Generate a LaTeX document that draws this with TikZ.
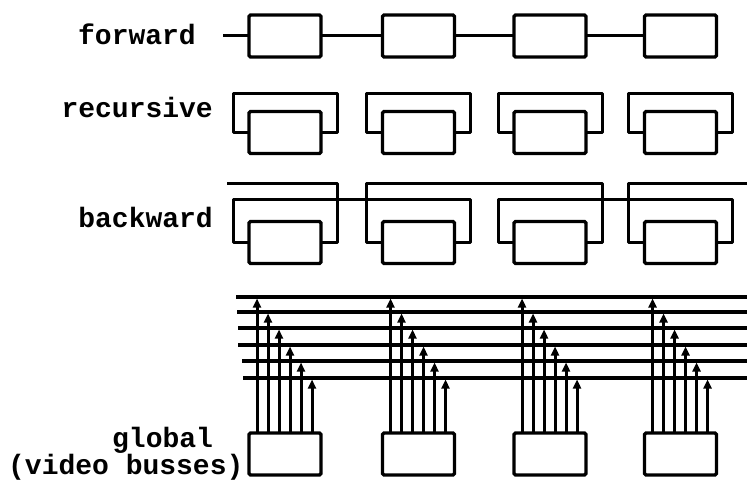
\documentclass[tikz,border=0pt]{standalone}
\usepackage{fontspec}
\newfontfamily\labfont{Liberation Mono}
\usetikzlibrary{arrows.meta,calc}
\begin{document}
\begin{tikzpicture}[x=1pt,y=-1pt,
  unit/.style={draw, line width=3.4pt, rounded corners=1.5pt, minimum width=72pt, minimum height=42pt, inner sep=0pt, outer sep=0pt},
  wire/.style={line width=3pt, line join=round},
  bus/.style={line width=3.4pt},
  tap/.style={line width=3pt, -{Triangle[length=9pt,width=8pt]}, shorten >=1.5pt},
  lab/.style={font=\labfont\bfseries\fontsize{28}{21}\selectfont, inner sep=0pt}]
\useasboundingbox[fill=white] (0,0) rectangle (747,481);

% units
\foreach \i/\x in {1/285,2/418.5,3/550,4/680.5} {
  \node[unit] (f\i) at (\x,36) {};
  \node[unit] (r\i) at (\x,132.5) {};
  \node[unit] (b\i) at (\x,242.5) {};
  \node[unit] (g\i) at (\x,454) {};
}

% labels
\node[lab, anchor=base east] (lf) at (196,45) {forward};
\node[lab, anchor=base east] (lr) at (213,118) {recursive};
\node[lab, anchor=base east] (lb) at (213,228) {backward};
\node[lab, align=left, anchor=south west] (lg) at (8,480.5) {\hspace*{104pt}global\\(video busses)};

% forward chain
\coordinate (fin) at (223,36);
\draw[wire] (fin) -- (f1.west);
\draw[wire] (f1.east) -- (f2.west);
\draw[wire] (f2.east) -- (f3.west);
\draw[wire] (f3.east) -- (f4.west);

% recursive loops
\foreach \i in {1,...,4}
  \draw[wire] (r\i.west) -- ++(-16,0) -- ++(0,-38.5) -- ++(104,0) -- ++(0,38.5) -- (r\i.east);

% backward connections
\coordinate (bl) at (227,184);
\coordinate (br) at (747,184);
\draw[wire] (b1.east) -- ++(16,0) |- (bl);
\draw[wire] (b1.west) -- ++(-16,0) -- ++(0,-42.5) -| ([xshift=16pt]b2.east) -- (b2.east);
\draw[wire] (b2.west) -- ++(-16,0) -- ++(0,-58.5) -| ([xshift=16pt]b3.east) -- (b3.east);
\draw[wire] (b3.west) -- ++(-16,0) -- ++(0,-42.5) -| ([xshift=16pt]b4.east) -- (b4.east);
\draw[wire] (b4.west) -- ++(-16,0) |- (br);

% video busses
\foreach \k/\y/\xl in {1/297/236, 2/312/237, 3/328/238, 4/345/238, 5/361/242, 6/378/243} {
  \coordinate (busL\k) at (\xl,\y);
  \coordinate (busR\k) at (747,\y);
  \draw[bus] (busL\k) -- (busR\k);
}

% taps from units to busses
\foreach \i in {1,...,4}
  \foreach \k in {1,...,6}
    \draw[tap] ($(g\i.north west)+({8+11*(\k-1)},0)$) coordinate (t\i\k) -- (t\i\k |- busL\k);
\end{tikzpicture}
\end{document}
